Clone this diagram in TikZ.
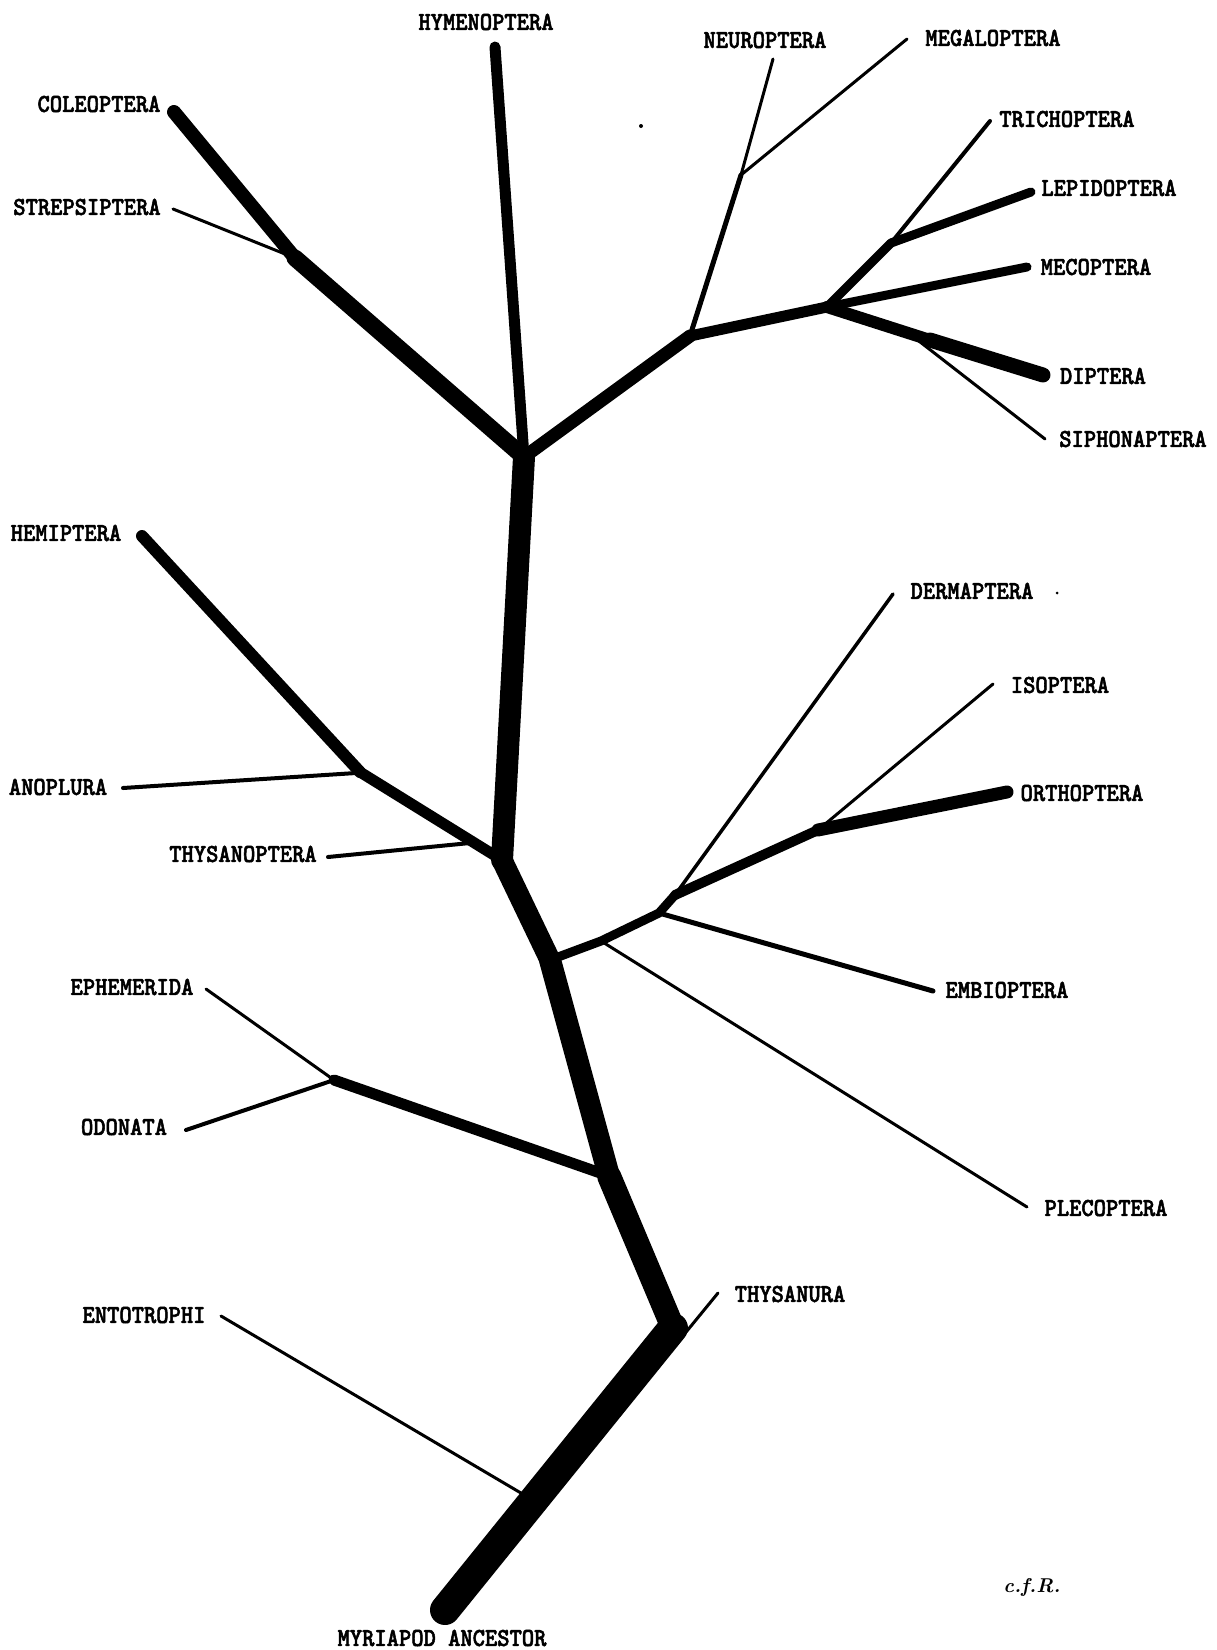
\documentclass[tikz,border=0pt]{standalone}
\usepackage{fontspec}
\newfontfamily\tw{lmmonolt10-bold.otf}[FakeStretch=0.9,FakeBold=2]
\begin{document}
\begin{tikzpicture}[x=1pt,y=-1pt,
  lbl/.style={font={\tw\fontsize{26}{28}\selectfont}, inner sep=0pt, anchor=center},
  br/.style={line width=#1, line cap=round, line join=round, draw=black}]
\useasboundingbox (0,0) rectangle (1217,1650);
% labels
\node[lbl] (hym) at (486,22) {HYMENOPTERA};
\node[lbl] (col) at (99,104) {COLEOPTERA};
\node[lbl] (str) at (87,207) {STREPSIPTERA};
\node[lbl] (neu) at (765,40) {NEUROPTERA};
\node[lbl] (meg) at (993,38) {MEGALOPTERA};
\node[lbl] (tri) at (1067,119) {TRICHOPTERA};
\node[lbl] (lep) at (1109,188) {LEPIDOPTERA};
\node[lbl] (mec) at (1096,267) {MECOPTERA};
\node[lbl] (dip) at (1103,376) {DIPTERA};
\node[lbl] (sip) at (1133,439) {SIPHONAPTERA};
\node[lbl] (hem) at (66,533) {HEMIPTERA};
\node[lbl] (ano) at (58,787) {ANOPLURA};
\node[lbl] (ths) at (243,854) {THYSANOPTERA};
\node[lbl] (der) at (972,591) {DERMAPTERA};
\node[lbl] (iso) at (1060,685) {ISOPTERA};
\node[lbl] (ort) at (1082,793) {ORTHOPTERA};
\node[lbl] (emb) at (1007,990) {EMBIOPTERA};
\node[lbl] (ple) at (1106,1208) {PLECOPTERA};
\node[lbl] (eph) at (132,987) {EPHEMERIDA};
\node[lbl] (odo) at (124,1127) {ODONATA};
\node[lbl] (thy) at (790,1294) {THYSANURA};
\node[lbl] (ent) at (144,1315) {ENTOTROPHI};
\node[lbl] (myr) at (442,1638) {MYRIAPOD ANCESTOR};
\node[font={\itshape\bfseries\fontsize{20}{22}\selectfont}, inner sep=0pt] (sig) at (1032,1587) {c.f.R.};
% junctions and ends
\coordinate (base) at (445,1610);
\coordinate (thyJ) at (673,1328);
\coordinate (odoJ) at (609,1176);
\coordinate (ortJ) at (550,960);
\coordinate (hemJ) at (502,860);
\coordinate (colJ) at (524,457);
\coordinate (strJ) at (295,258);
\coordinate (colE) at (174,112);
\coordinate (strE) at (173,209);
\coordinate (hymE) at (495,47);
\coordinate (neuJ) at (690,336);
\coordinate (dipJ) at (827,307);
\coordinate (megJ) at (741,175);
\coordinate (neuE) at (773,59);
\coordinate (megE) at (907,39);
\coordinate (lepJ) at (891,243);
\coordinate (triE) at (990,121);
\coordinate (lepE) at (1031,192);
\coordinate (mecE) at (1027,267);
\coordinate (dipM) at (930,340);
\coordinate (dipE) at (1043,375);
\coordinate (sipJ) at (915,338);
\coordinate (sipE) at (1045,439);
\coordinate (hemK) at (360,772);
\coordinate (hemE) at (142,536);
\coordinate (anoJ) at (356,773);
\coordinate (anoE) at (123,788);
\coordinate (thsJ) at (470,843);
\coordinate (thsE) at (328,857);
\coordinate (pleJ) at (601,941);
\coordinate (embJ) at (659,913);
\coordinate (derJ) at (675,895);
\coordinate (isoJ) at (818,830);
\coordinate (ortE) at (1007,792);
\coordinate (derE) at (893,594);
\coordinate (isoE) at (993,684);
\coordinate (embE) at (933,991);
\coordinate (pleE) at (1027,1207);
\coordinate (odK) at (334,1080);
\coordinate (ephE) at (206,989);
\coordinate (odE) at (186,1130);
\coordinate (entJ) at (526,1496);
\coordinate (entE) at (221,1316);
\coordinate (thyS) at (682,1337);
\coordinate (thyE) at (718,1293);
% thin branches
\draw[br=3] (entE) -- (entJ);
\draw[br=3] (thyS) -- (thyE);
\draw[br=3] (strE) -- (strJ);
\draw[br=3] (megJ) -- (megE);
\draw[br=3] (sipJ) -- (sipE);
\draw[br=3] (ephE) -- (odK);
\draw[br=4] (odE) -- (odK);
\draw[br=4] (anoE) -- (anoJ);
\draw[br=4] (thsE) -- (thsJ);
\draw[br=3.5] (derJ) -- (derE);
\draw[br=3] (isoJ) -- (isoE);
\draw[br=5] (embJ) -- (embE);
\draw[br=3] (pleJ) -- (pleE);
\draw[br=3] (megJ) -- (neuE);
\draw[br=5] (neuJ) -- (megJ);
\draw[br=4] (lepJ) -- (triE);
% medium branches
\draw[br=9] (dipJ) -- (lepJ);
\draw[br=9] (lepJ) -- (lepE);
\draw[br=9] (dipJ) -- (mecE);
\draw[br=12] (dipJ) -- (dipM);
\draw[br=15] (dipM) -- (dipE);
\draw[br=11] (neuJ) -- (dipJ);
\draw[br=13] (colJ) -- (neuJ);
\draw[br=11] (colJ) -- (hymE);
\draw[br=17] (colJ) -- (strJ);
\draw[br=14] (strJ) -- (colE);
\draw[br=11] (hemJ) -- (hemK);
\draw[br=12] (hemK) -- (hemE);
\draw[br=9] (ortJ) -- (pleJ) -- (embJ) -- (derJ);
\draw[br=10] (derJ) -- (isoJ);
\draw[br=13] (isoJ) -- (ortE);
\draw[br=11] (odoJ) -- (odK);
% trunk
\draw[br=22] (colJ) -- (hemJ);
\draw[br=21] (hemJ) -- (ortJ);
\draw[br=22] (ortJ) -- (odoJ);
\draw[br=24] (odoJ) -- (thyJ);
\draw[br=30] (thyJ) -- (base);
% specks
\fill (641,126) circle (2);
\fill (1057,593) circle (1.5);
\end{tikzpicture}
\end{document}
